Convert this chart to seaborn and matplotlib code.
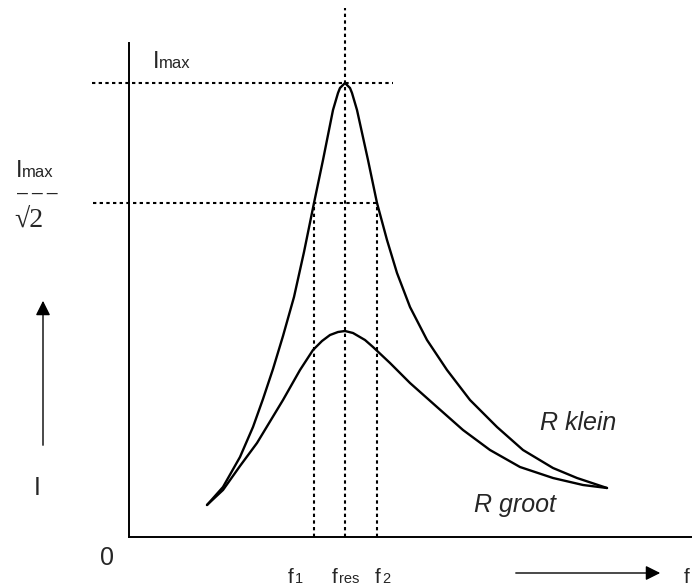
import pandas as pd
import numpy as np
import matplotlib
matplotlib.use('Agg')
import matplotlib.pyplot as plt
import seaborn as sns

f_klein = [78, 94, 111, 124, 134, 144, 154, 165, 175, 185, 194, 204, 209, 211,
           216, 221, 223, 228, 239, 248, 258, 268, 281, 298, 318, 341, 368, 394,
           424, 448, 478]
I_klein = [32, 50, 80, 110, 138, 168, 201, 240, 285, 334, 377, 427, 444, 449,
           454, 449, 444, 427, 377, 334, 297, 264, 230, 197, 167, 137, 110, 87,
           69, 59, 49]

f_groot = [78, 94, 111, 128, 154, 171, 184, 193, 201, 209, 216, 224, 236, 244,
           261, 281, 308, 334, 361, 391, 424, 454, 478]
I_groot = [32, 47, 71, 94, 137, 167, 187, 196, 202, 205, 206, 204, 197, 190,
           174, 154, 130, 107, 87, 70, 59, 52, 49]

f1, f_res, f2 = 185, 216, 248
I_max, I_half = 454, 334

df = pd.concat([
    pd.DataFrame({'f': f_klein, 'I': I_klein, 'R': 'R klein'}),
    pd.DataFrame({'f': f_groot, 'I': I_groot, 'R': 'R groot'}),
])

sns.set_theme(style='white')
plt.rcParams['font.family'] = ['Liberation Sans', 'DejaVu Sans']

fig = plt.figure(figsize=(6.92, 5.88), dpi=100)
ax = fig.add_axes([129/692, 51/588, 563/692, 494/588])

sns.lineplot(data=df, x='f', y='I', hue='R', palette=['black', 'black'],
             estimator=None, sort=False, legend=False, linewidth=1.7,
             solid_joinstyle='round', ax=ax)

ax.set_xlim(0, 563)
ax.set_ylim(0, 494)
ax.set_xticks([])
ax.set_yticks([])
ax.set_xlabel('')
ax.set_ylabel('')
for s in ['top', 'right']:
    ax.spines[s].set_visible(False)
for s in ['left', 'bottom']:
    ax.spines[s].set_color('black')
    ax.spines[s].set_linewidth(1.4)

# stippellijnen
dot = dict(color='black', lw=1.5, linestyle=(0, (1.6, 1.6)), clip_on=False)
ax.plot([-37, 264], [I_max, I_max], **dot)
ax.plot([-36, f2], [I_half, I_half], **dot)
ax.plot([f_res, f_res], [0, 529], **dot)
ax.plot([f1, f1], [0, I_half], **dot)
ax.plot([f2, f2], [0, I_half], **dot)

big = 17
small = 12

# Imax bovenaan
ax.text(24, 469, 'I', fontsize=big, va='baseline', ha='left')
ax.text(30, 469, 'max', fontsize=small, va='baseline', ha='left')

# Imax / wortel 2
ax.text(-113, 360, 'I', fontsize=big, va='baseline', ha='left')
ax.text(-107, 360, 'max', fontsize=small, va='baseline', ha='left')
ax.text(-92, 343, '\u2013\u2009\u2013\u2009\u2013', fontsize=14, va='center', ha='center')
ax.text(-115, 310, '\u221a2', fontsize=20, va='baseline', ha='left',
        family=['Liberation Serif', 'DejaVu Serif'])

# pijlen
ax.annotate('', xy=(-86, 239), xytext=(-86, 89), annotation_clip=False,
            arrowprops=dict(arrowstyle='-|>', color='black', lw=1.0, mutation_scale=22))
ax.annotate('', xy=(534, -36), xytext=(384, -36), annotation_clip=False,
            arrowprops=dict(arrowstyle='-|>', color='black', lw=1.0, mutation_scale=22))

ax.text(-92, 49, 'I', fontsize=18, va='center', ha='center')
ax.text(-22, -21, '0', fontsize=18, va='center', ha='center')

# frequentielabels
fl = 15
fs = 10.5
ax.text(159, -46, 'f', fontsize=fl, va='baseline', ha='left')
ax.text(166, -46, '1', fontsize=fs, va='baseline', ha='left')
ax.text(203, -46, 'f', fontsize=fl, va='baseline', ha='left')
ax.text(210, -46, 'res', fontsize=fs, va='baseline', ha='left')
ax.text(246, -46, 'f', fontsize=fl, va='baseline', ha='left')
ax.text(253, -46, '2', fontsize=fs, va='baseline', ha='left')
ax.text(555, -46, 'f', fontsize=fl, va='baseline', ha='left')

ax.text(449, 114, 'R klein', fontsize=18, style='italic', va='center', ha='center')
ax.text(386, 32, 'R groot', fontsize=18, style='italic', va='center', ha='center')

fig.savefig('out.png', dpi=100)
